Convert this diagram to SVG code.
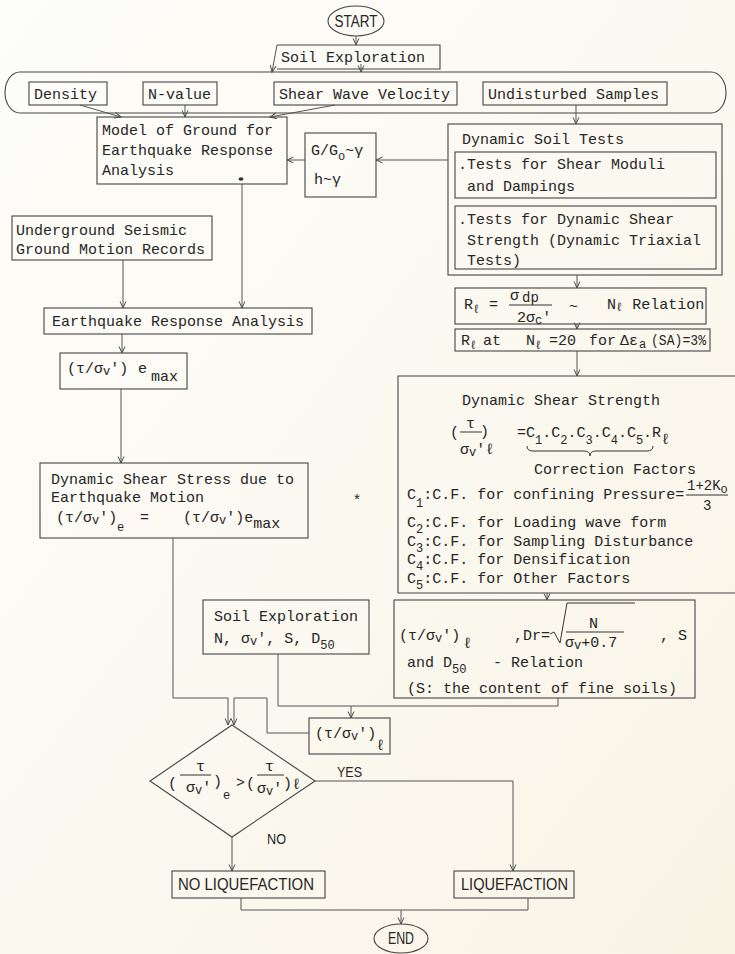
<svg xmlns="http://www.w3.org/2000/svg" width="735" height="954" viewBox="0 0 735 954">
<defs>
<linearGradient id="bg" x1="0" y1="0" x2="1" y2="1">
<stop offset="0" stop-color="#fdfdfa"/><stop offset="1" stop-color="#f9f4e6"/>
</linearGradient>
<marker id="ah" markerWidth="8" markerHeight="8" refX="7" refY="3.5" orient="auto" markerUnits="userSpaceOnUse"><path d="M0.5,0.6 L7,3.5 L0.5,6.4" fill="none" stroke="#4a4a4a" stroke-width="1"/></marker>
<style>
.bx{fill:none;stroke:#444;stroke-width:1.1}
.fr{fill:none;stroke:#333;stroke-width:1}
.ln{fill:none;stroke:#555;stroke-width:1}
.ar{fill:none;stroke:#555;stroke-width:1;marker-end:url(#ah)}
.t{font-family:"Liberation Mono","DejaVu Sans Mono",monospace;font-size:15px;fill:#262626}
.sb{font-size:12px}
.h{font-family:"Liberation Sans","DejaVu Sans",sans-serif;font-size:16px;fill:#262626}
</style>
</defs>
<rect width="735" height="954" fill="url(#bg)"/>

<g id="start">
<ellipse class="bx" cx="356" cy="21" rx="28" ry="15"/>
<text class="h" x="356" y="27" text-anchor="middle" textLength="43" lengthAdjust="spacingAndGlyphs">START</text>
</g>

<g id="soil-exploration">
<path class="bx" d="M277,45 H440 V69 H277"/>
<text class="t" x="281" y="62">Soil Exploration</text>
</g>

<g id="exploration-items">
<rect class="bx" x="5" y="72" width="721" height="41" rx="15" ry="20.5"/>
</g>
<g id="density">
<rect class="bx" x="29" y="82" width="78" height="23"/>
<text class="t" x="34" y="99">Density</text>
</g>
<g id="n-value">
<rect class="bx" x="143" y="82" width="74" height="23"/>
<text class="t" x="148" y="99">N-value</text>
</g>
<g id="shear-wave-velocity">
<rect class="bx" x="274" y="82" width="183" height="23"/>
<text class="t" x="279" y="99">Shear Wave Velocity</text>
</g>
<g id="undisturbed-samples">
<rect class="bx" x="483" y="82" width="184" height="23"/>
<text class="t" x="488" y="99">Undisturbed Samples</text>
</g>

<g id="ground-model">
<rect class="bx" x="97" y="117" width="190" height="67"/>
<text class="t" x="102" y="135">Model of Ground for</text>
<text class="t" x="102" y="155">Earthquake Response</text>
<text class="t" x="102" y="175">Analysis</text>
<ellipse cx="241" cy="179" rx="2.5" ry="1.8" fill="#333"/>
</g>

<g id="modulus-curves">
<rect class="bx" x="305" y="133" width="71" height="64"/>
<text class="t" x="311" y="155">G/G<tspan class="sb" dy="5">o</tspan><tspan dy="-5">~γ</tspan></text>
<text class="t" x="314" y="184">h~γ</text>
</g>

<g id="dynamic-soil-tests">
<rect class="bx" x="448" y="124" width="274" height="151"/>
<text class="t" x="462" y="144">Dynamic Soil Tests</text>
<rect class="bx" x="455" y="152" width="261" height="46"/>
<text class="t" x="458" y="169">.Tests for Shear Moduli</text>
<text class="t" x="467" y="191">and Dampings</text>
<rect class="bx" x="455" y="206" width="261" height="63"/>
<text class="t" x="458" y="224">.Tests for Dynamic Shear</text>
<text class="t" x="467" y="245">Strength (Dynamic Triaxial</text>
<text class="t" x="467" y="265">Tests)</text>
</g>

<g id="underground-records">
<rect class="bx" x="12" y="216" width="200" height="44"/>
<text class="t" x="16" y="235">Underground Seismic</text>
<text class="t" x="16" y="254">Ground Motion Records</text>
</g>

<g id="response-analysis">
<rect class="bx" x="44" y="308" width="268" height="26"/>
<text class="t" x="52" y="326">Earthquake Response Analysis</text>
</g>

<g id="max-stress-ratio">
<rect class="bx" x="60" y="353" width="127" height="36"/>
<text class="t" x="67" y="373">(τ/σ<tspan class="sb" dy="2">v</tspan><tspan dy="-2">')</tspan></text>
<text class="t" x="138" y="373">e</text>
<text class="t" x="151" y="381">max</text>
</g>

<g id="shear-stress">
<rect class="bx" x="40" y="463" width="268" height="75"/>
<text class="t" x="51" y="484">Dynamic Shear Stress due to</text>
<text class="t" x="51" y="502">Earthquake Motion</text>
<text class="t" x="56" y="522">(τ/σ<tspan class="sb" dy="2">v</tspan><tspan dy="-2">')</tspan></text>
<text class="t sb" x="117" y="531">e</text>
<text class="t" x="140" y="522">=</text>
<text class="t" x="183" y="522">(τ/σ<tspan class="sb" dy="2">v</tspan><tspan dy="-2">')e</tspan><tspan dy="6">max</tspan></text>
</g>

<g id="star">
<text class="t" x="357" y="505" text-anchor="middle">*</text>
</g>

<g id="strength-relation">
<rect class="bx" x="455" y="288" width="251" height="36"/>
<text class="t" x="464" y="309">R<tspan class="sb" dy="4">ℓ</tspan></text>
<text class="t" x="489" y="309">=</text>
<text class="t" x="510" y="300">σ<tspan dx="3" dy="2" style="font-size:14px">dp</tspan></text>
<path class="fr" d="M509,305 H552"/>
<text class="t" x="517" y="322">2σ<tspan class="sb" dy="2">c</tspan><tspan dy="-2">'</tspan></text>
<text class="t" x="569" y="311">~</text>
<text class="t" x="607" y="309">N<tspan class="sb" dy="2">ℓ</tspan><tspan dy="-2"> Relation</tspan></text>
</g>

<g id="strength-at-20">
<rect class="bx" x="455" y="329" width="255" height="22"/>
<text class="t" x="461" y="345">R</text>
<text class="t sb" x="470" y="349">ℓ</text>
<text class="t" x="483" y="345">at</text>
<text class="t" x="526" y="345">N</text>
<text class="t sb" x="535" y="349">ℓ</text>
<text class="t" x="549" y="345">=20</text>
<text class="t" x="589" y="345">for</text>
<text class="t" x="620" y="345">Δε</text>
<text class="t sb" x="639" y="348">a</text>
<text class="t" x="651" y="345" textLength="55" lengthAdjust="spacingAndGlyphs">(SA)=3%</text>
</g>

<g id="dynamic-shear-strength">
<path class="bx" d="M740,376 H398 V593 H740"/>
<text class="t" x="462" y="405">Dynamic Shear Strength</text>
<text class="t" x="450" y="437">(</text>
<text class="t" x="466" y="428">τ</text>
<path class="fr" d="M460,432 H482"/>
<text class="t" x="480" y="436">)</text>
<text class="t" x="460" y="454">σ<tspan class="sb" dy="2">v</tspan><tspan dy="-2">'ℓ</tspan></text>
<text class="t" x="517" y="437">=C<tspan class="sb" dy="7">1</tspan><tspan dy="-7">.C</tspan><tspan class="sb" dy="7">2</tspan><tspan dy="-7">.C</tspan><tspan class="sb" dy="7">3</tspan><tspan dy="-7">.C</tspan><tspan class="sb" dy="7">4</tspan><tspan dy="-7">.C</tspan><tspan class="sb" dy="7">5</tspan><tspan dy="-7">.R</tspan><tspan dy="7">ℓ</tspan></text>
<path class="fr" d="M527,446 Q527,451 533,451 H584 Q590,451 590,456 Q590,451 596,451 H647 Q653,451 653,446"/>
<text class="t" x="534" y="474">Correction Factors</text>
<text class="t" x="407" y="499">C<tspan class="sb" dy="8">1</tspan><tspan dy="-8">:C.F. for confining Pressure=</tspan></text>
<text class="t" x="687" y="490" style="font-size:14px">1+2K<tspan class="sb" dy="3">o</tspan></text>
<path class="fr" d="M686,495 H728"/>
<text class="t" x="703" y="510" style="font-size:14px">3</text>
<text class="t" x="407" y="527">C<tspan class="sb" dy="6">2</tspan><tspan dy="-6">:C.F. for Loading wave form</tspan></text>
<text class="t" x="407" y="546">C<tspan class="sb" dy="6">3</tspan><tspan dy="-6">:C.F. for Sampling Disturbance</tspan></text>
<text class="t" x="407" y="564">C<tspan class="sb" dy="6">4</tspan><tspan dy="-6">:C.F. for Densification</tspan></text>
<text class="t" x="407" y="583">C<tspan class="sb" dy="6">5</tspan><tspan dy="-6">:C.F. for Other Factors</tspan></text>
</g>

<g id="field-soil-exploration">
<rect class="bx" x="203" y="600" width="166" height="54"/>
<text class="t" x="214" y="621">Soil Exploration</text>
<text class="t" x="214" y="643">N, σ<tspan class="sb" dy="2">v</tspan><tspan dy="-2">', S, D</tspan><tspan class="sb" dy="6">50</tspan></text>
</g>

<g id="field-strength-relation">
<rect class="bx" x="394" y="600" width="301" height="98"/>
<text class="t" x="399" y="640">(τ/σ<tspan class="sb" dy="2">v</tspan><tspan dy="-2">')</tspan></text>
<text class="t" x="463" y="648">ℓ</text>
<text class="t" x="514" y="640">,Dr=</text>
<path class="fr" d="M550,634 L554,632 L560,643 L567,603 H635"/>
<text class="t" x="589" y="628">N</text>
<path class="fr" d="M566,632 H624"/>
<text class="t" x="565" y="647">σ<tspan class="sb" dy="2">v</tspan><tspan dy="-2">+0.7</tspan></text>
<text class="t" x="660" y="640">, S</text>
<text class="t" x="407" y="667">and D<tspan class="sb" dy="6">50</tspan><tspan x="493" dy="-6">- Relation</tspan></text>
<text class="t" x="407" y="693">(S: the content of fine soils)</text>
</g>

<g id="strength-ratio">
<rect class="bx" x="309" y="718" width="81" height="36"/>
<text class="t" x="315" y="738">(τ/σ<tspan class="sb" dy="2">v</tspan><tspan dy="-2">')</tspan></text>
<text class="t" x="376" y="750">ℓ</text>
</g>

<g id="decision">
<polygon class="bx" points="232,725 315,781 232,837 150,781"/>
<text class="t" x="168" y="788">(</text>
<text class="t" x="196" y="771">τ</text>
<path class="fr" d="M180,775 H211"/>
<text class="t" x="186" y="792">σ<tspan class="sb" dy="2">v</tspan><tspan dy="-2">'</tspan></text>
<text class="t" x="213" y="786">)</text>
<text class="t sb" x="223" y="799">e</text>
<text class="t" x="236" y="787">&gt;</text>
<text class="t" x="246" y="788">(</text>
<text class="t" x="265" y="771">τ</text>
<path class="fr" d="M257,775 H284"/>
<text class="t" x="257" y="793">σ<tspan class="sb" dy="2">v</tspan><tspan dy="-2">'</tspan></text>
<text class="t" x="283" y="788">)</text>
<text class="t" x="292" y="789">ℓ</text>
<text class="h" x="337" y="777" style="font-size:15px" textLength="25" lengthAdjust="spacingAndGlyphs">YES</text>
<text class="h" x="267" y="844" style="font-size:15px" textLength="19" lengthAdjust="spacingAndGlyphs">NO</text>
</g>

<g id="no-liquefaction">
<rect class="bx" x="172" y="871" width="153" height="27"/>
<text class="h" x="178" y="890" textLength="136" lengthAdjust="spacingAndGlyphs">NO LIQUEFACTION</text>
</g>

<g id="liquefaction">
<rect class="bx" x="454" y="871" width="120" height="27"/>
<text class="h" x="461" y="890" textLength="107" lengthAdjust="spacingAndGlyphs">LIQUEFACTION</text>
</g>

<g id="end">
<ellipse class="bx" cx="401" cy="938.5" rx="27" ry="14.5"/>
<text class="h" x="401" y="944" text-anchor="middle" textLength="26" lengthAdjust="spacingAndGlyphs">END</text>
</g>

<g id="connectors">
<path class="ar" d="M356,36 V45"/>
<path class="ar" d="M277,45 L272,72"/>
<path class="ar" d="M361,64 V72"/>
<path class="ar" d="M80,105 L121,117"/>
<path class="ar" d="M185,105 V117"/>
<path class="ar" d="M335,105 L270,117"/>
<path class="ar" d="M576,105 V124"/>
<path class="ar" d="M448,160 H376"/>
<path class="ar" d="M305,160 H287"/>
<path class="ar" d="M242,184 V308"/>
<path class="ar" d="M123,260 V308"/>
<path class="ar" d="M122,334 V353"/>
<path class="ar" d="M121,389 V463"/>
<path class="ar" d="M577,275 V288"/>
<path class="ar" d="M577,324 V329"/>
<path class="ar" d="M577,351 V376"/>
<path class="ar" d="M547,593 V600"/>
<path class="ar" d="M173,538 V698 H228 V725"/>
<path class="ar" d="M309,733 H267 V698 H234 V725"/>
<path class="ln" d="M558,698 V706 H278 V654"/>
<path class="ar" d="M351,706 V718"/>
<path class="ar" d="M315,781 H513 V871"/>
<path class="ar" d="M232,837 V871"/>
<path class="ln" d="M241,898 V910 H528 V898"/>
<path class="ar" d="M401,910 V924"/>
</g>
</svg>
